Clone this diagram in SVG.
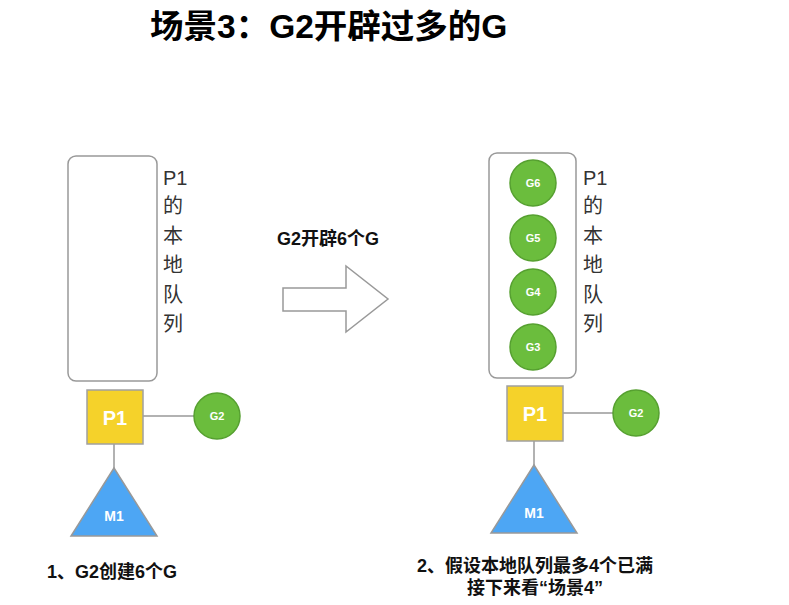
<svg xmlns="http://www.w3.org/2000/svg" width="789" height="605" viewBox="0 0 789 605">
<style>
text{font-family:"Liberation Sans","Noto Sans CJK SC",sans-serif;}
.title{font-size:33.5px;font-weight:bold;fill:#000;}
.lbl{font-size:18px;font-weight:bold;fill:#111;}
.vt{font-size:20px;fill:#333;text-anchor:start;}
.queue{fill:#fff;stroke:#999;stroke-width:1.5;}
.p{fill:#F5D22A;stroke:#A0A0A0;stroke-width:1.5;}
.g{fill:#6BBD3D;stroke:#56A030;stroke-width:1.5;}
.m{fill:#4DA6F4;stroke:#999;stroke-width:1.5;}
.wt{fill:#fff;font-weight:bold;text-anchor:middle;}
.ln{stroke:#999;stroke-width:1.5;fill:none;}
</style>
<rect width="789" height="605" fill="#fff"/>
<text class="title" x="150" y="38">场景3：G2开辟过多的G</text>

<g id="left-queue">
<rect class="queue" x="68" y="156" width="89" height="225" rx="8"/>
<text class="vt" x="163" y="185">P1</text>
<text class="vt" x="163" y="213">的</text>
<text class="vt" x="163" y="243">本</text>
<text class="vt" x="163" y="272">地</text>
<text class="vt" x="163" y="302">队</text>
<text class="vt" x="163" y="331">列</text>
</g>

<g id="connectors">
<line class="ln" x1="143" y1="416" x2="194" y2="416"/>
<line class="ln" x1="114" y1="444" x2="114" y2="468"/>
<line class="ln" x1="563" y1="413" x2="613" y2="413"/>
<line class="ln" x1="534" y1="441" x2="534" y2="465"/>
</g>

<g id="left-p1">
<rect class="p" x="87" y="390" width="56" height="54"/>
<text class="wt" x="115" y="425" font-size="20">P1</text>
</g>
<g id="left-g2">
<circle class="g" cx="217" cy="416" r="23"/>
<text class="wt" x="217" y="420" font-size="11">G2</text>
</g>
<g id="left-m1">
<polygon class="m" points="114,468 71,536 157,536"/>
<text class="wt" x="114" y="521" font-size="14">M1</text>
</g>

<g id="arrow">
<polygon points="283,288 346,288 346,266 388,299 346,332 346,311 283,311" fill="#fff" stroke="#999" stroke-width="1.5"/>
<text class="lbl" x="277" y="245">G2开辟6个G</text>
</g>

<g id="right-queue">
<rect class="queue" x="489" y="153" width="87" height="225" rx="8"/>
<text class="vt" x="583" y="185">P1</text>
<text class="vt" x="583" y="213">的</text>
<text class="vt" x="583" y="243">本</text>
<text class="vt" x="583" y="272">地</text>
<text class="vt" x="583" y="302">队</text>
<text class="vt" x="583" y="331">列</text>
</g>
<g id="g6"><circle class="g" cx="533" cy="183" r="23"/><text class="wt" x="533" y="187" font-size="11">G6</text></g>
<g id="g5"><circle class="g" cx="533" cy="238" r="23"/><text class="wt" x="533" y="242" font-size="11">G5</text></g>
<g id="g4"><circle class="g" cx="533" cy="292" r="23"/><text class="wt" x="533" y="296" font-size="11">G4</text></g>
<g id="g3"><circle class="g" cx="533" cy="347" r="23"/><text class="wt" x="533" y="351" font-size="11">G3</text></g>

<g id="right-p1">
<rect class="p" x="507" y="386" width="56" height="55"/>
<text class="wt" x="535" y="421" font-size="20">P1</text>
</g>
<g id="right-g2">
<circle class="g" cx="636" cy="413" r="23"/>
<text class="wt" x="636" y="417" font-size="11">G2</text>
</g>
<g id="right-m1">
<polygon class="m" points="534,465 491,533 577,533"/>
<text class="wt" x="534" y="518" font-size="14">M1</text>
</g>

<text class="lbl" x="47" y="578">1、G2创建6个G</text>
<text class="lbl" x="535" y="572" text-anchor="middle">2、假设本地队列最多4个已满</text>
<text class="lbl" x="535" y="594" text-anchor="middle">接下来看“场景4”</text>
</svg>
